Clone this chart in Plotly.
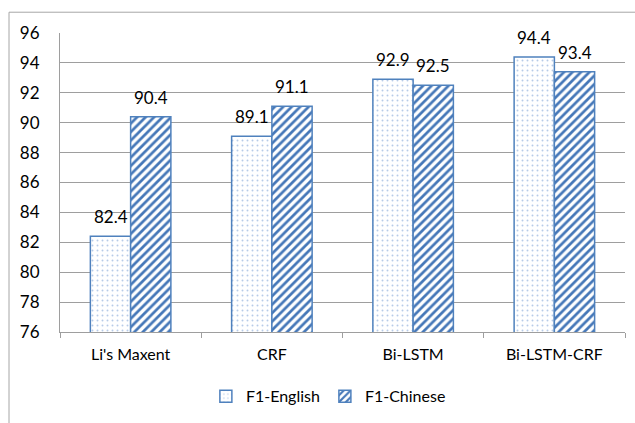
import plotly.graph_objects as go

categories = ["Li's Maxent", "CRF", "Bi-LSTM", "Bi-LSTM-CRF"]
f1_english = [82.4, 89.1, 92.9, 94.4]
f1_chinese = [90.4, 91.1, 92.5, 93.4]
y_ticks = [76, 78, 80, 82, 84, 86, 88, 90, 92, 94, 96]

blue = "#4F81BD"
grid = "#9E9E9E"
font = "Lato, 'Open Sans', sans-serif"
bargap = 0.43
half = (1 - bargap) / 4  # center offset of each bar in its group

fig = go.Figure()
fig.add_trace(go.Bar(
    name="F1-English", x=categories, y=f1_english,
    marker=dict(color="white", line=dict(color=blue, width=1.5),
                pattern=dict(shape=".", fgcolor="#6F98D0", bgcolor="white", size=5, solidity=0.12)),
))
fig.add_trace(go.Bar(
    name="F1-Chinese", x=categories, y=f1_chinese,
    marker=dict(color="white", line=dict(color=blue, width=1.5),
                pattern=dict(shape="/", fgcolor="#4577B8", bgcolor="white", size=6, solidity=0.45,
                             fgopacity=1)),
))

annotations = []
for i, (e, c) in enumerate(zip(f1_english, f1_chinese)):
    annotations.append(dict(x=i - half, y=e, xref="x", yref="y", text=f"{e:.1f}",
                            showarrow=False, yanchor="bottom", yshift=7,
                            font=dict(size=17, color="black", family=font)))
    annotations.append(dict(x=i + half, y=c, xref="x", yref="y", text=f"{c:.1f}",
                            showarrow=False, yanchor="bottom", yshift=7,
                            font=dict(size=17, color="black", family=font)))

fig.update_layout(
    width=635, height=423,
    margin=dict(l=60, r=10, t=33, b=88),
    paper_bgcolor="white", plot_bgcolor="white",
    barmode="group", bargap=bargap, bargroupgap=0,
    font=dict(family=font, size=16, color="black"),
    showlegend=True,
    legend=dict(orientation="h", x=0.475, xanchor="center", y=-0.215, yanchor="middle",
                font=dict(size=16), itemwidth=30, traceorder="normal"),
    yaxis=dict(range=[76, 96], tickvals=y_ticks, showgrid=True, gridcolor=grid,
               gridwidth=1, showline=True, linecolor=grid, zeroline=False,
               ticks="", ticklabelstandoff=16, tickfont=dict(size=17)),
    xaxis=dict(showline=True, linecolor=grid, ticks="outside", ticklen=5,
               tickcolor=grid, tickson="boundaries", ticklabelstandoff=8,
               tickfont=dict(size=16)),
    annotations=annotations,
    shapes=[dict(type="rect", xref="paper", yref="paper",
                 x0=-51/565, x1=1.1, y0=-0.5, y1=1 + 21/302,
                 line=dict(color="#A6A6A6", width=1), fillcolor="rgba(0,0,0,0)", layer="below")],
)

fig.write_html("out.html")
